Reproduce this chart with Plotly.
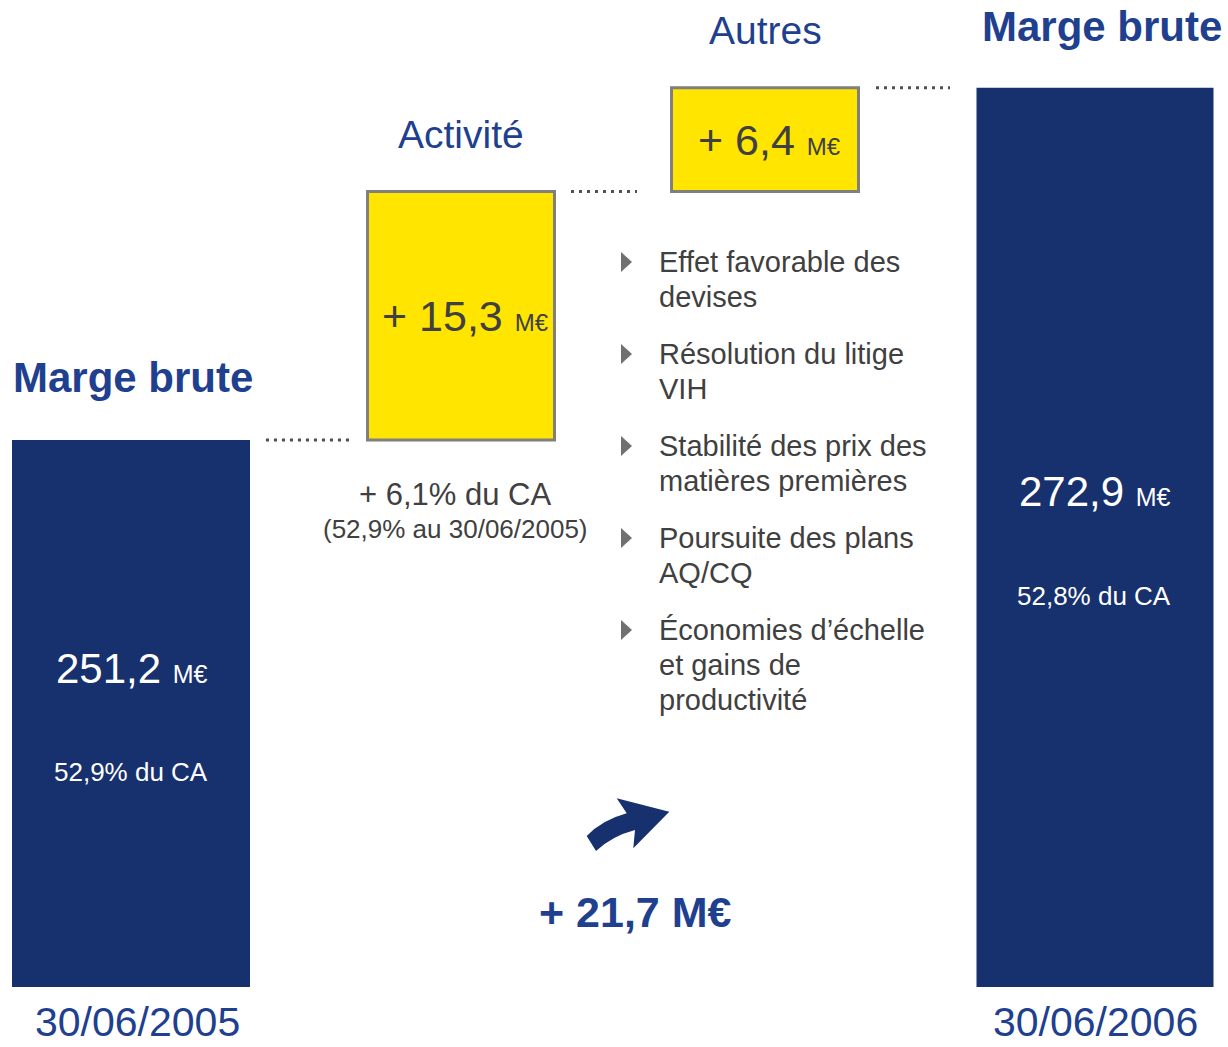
import plotly.graph_objects as go

# ---------------- data ----------------
categories = ["30/06/2005", "Activité", "Autres", "30/06/2006"]
start_value = 251.2          # M€ marge brute 30/06/2005
deltas = [15.3, 6.4]         # M€ activité, autres
end_value = 272.9            # M€ marge brute 30/06/2006
total_change = 21.7
pct_start = "52,9% du CA"
pct_end = "52,8% du CA"
activity_note = ["+ 6,1% du CA", "(52,9% au 30/06/2005)"]
bullets = [
    ["Effet favorable des", "devises"],
    ["Résolution du litige", "VIH"],
    ["Stabilité des prix des", "matières premières"],
    ["Poursuite des plans", "AQ/CQ"],
    ["Économies d’échelle", "et gains de", "productivité"],
]

# ---------------- layout / style ----------------
W, H = 1228, 1047
FONT = "Liberation Sans, Arial, sans-serif"
NAVY = "#17306E"
BLUE = "#1F3F8F"
GREY_TXT = "#404040"
YELLOW = "#FFE500"
BORDER = "#7F7F7F"
BAR_FLOOR = 217.5
Y_RANGE = [213.8, 278.3]
x_pos = [131, 461, 765, 1095]
x_width = [238, 190, 190, 237]


def fmt(v):
    return f"{v:.1f}".replace(".", ",")


def px(x):
    return x / W


def py(y):
    return 1 - y / H


fig = go.Figure()

# navy totals
fig.add_trace(go.Bar(
    x=[x_pos[0], x_pos[3]],
    y=[start_value - BAR_FLOOR, end_value - BAR_FLOOR],
    base=[BAR_FLOOR, BAR_FLOOR],
    width=[x_width[0], x_width[3]],
    marker=dict(color=NAVY, line=dict(width=0)),
    hoverinfo="skip",
))

# yellow deltas
bases = [start_value, start_value + deltas[0]]
fig.add_trace(go.Bar(
    x=[x_pos[1], x_pos[2]],
    y=deltas,
    base=bases,
    width=[x_width[1] - 3, x_width[2] - 3],
    marker=dict(color=YELLOW, line=dict(width=3, color=BORDER)),
    hoverinfo="skip",
))

shapes = []
# dotted connectors
levels = [start_value, start_value + deltas[0], end_value]
conn_x = [(266, 350), (571, 637), (876, 950)]
for (x0, x1), lv in zip(conn_x, levels):
    shapes.append(dict(type="line", xref="x", yref="y", x0=x0, x1=x1, y0=lv, y1=lv,
                       line=dict(color="#505050", width=3, dash="3px,5px")))

# bullet triangles
for i in range(len(bullets)):
    cy = 262 + 92 * i
    path = f"M {px(621)},{py(cy - 10)} L {px(632)},{py(cy)} L {px(621)},{py(cy + 10)} Z"
    shapes.append(dict(type="path", xref="paper", yref="paper", path=path,
                       fillcolor="#707070", line=dict(width=0)))

# curved arrow
pts = "M {},{} Q {},{} {},{} L {},{} L {},{} L {},{} L {},{} Q {},{} {},{} Z".format(
    px(586.7), py(836), px(602), py(820), px(626.7), py(813.3),
    px(616.7), py(798.3), px(669.3), py(811.7), px(633.3), py(848.3),
    px(635), py(830), px(612), py(836), px(596), py(851))
shapes.append(dict(type="path", xref="paper", yref="paper", path=pts,
                   fillcolor=NAVY, line=dict(width=0)))

ann = []


def add(text, x, y, size, color, bold=False, xanchor="center", yanchor="middle"):
    t = f"<b>{text}</b>" if bold else text
    ann.append(dict(text=t, x=px(x), y=py(y), xref="paper", yref="paper",
                    xanchor=xanchor, yanchor=yanchor, showarrow=False,
                    font=dict(family=FONT, size=size, color=color)))


# titles
add("Marge brute", 11, 377, 42, BLUE, bold=True, xanchor="left")
add("Marge brute", 1224, 27, 42, BLUE, bold=True, xanchor="right")

# category labels above yellow boxes (data-anchored)
for i, lab in enumerate(categories[1:3]):
    top = bases[i] + deltas[i]
    ann.append(dict(text=lab, x=x_pos[i + 1], y=top, xref="x", yref="y",
                    xanchor="center", yanchor="bottom", yshift=34, showarrow=False,
                    font=dict(family=FONT, size=39, color=BLUE)))
    ann.append(dict(text=f"+ {fmt(deltas[i])} <span style='font-size:24px'>M€</span>",
                    x=x_pos[i + 1] + 4, y=bases[i] + deltas[i] / 2, xref="x", yref="y",
                    xanchor="center", yanchor="middle", showarrow=False,
                    font=dict(family=FONT, size=43, color=GREY_TXT)))

# values in navy bars
add(f"{fmt(start_value)} <span style='font-size:25px'>M€</span>", 132, 668, 42, "white")
add(pct_start, 131, 772, 26, "white")
add(f"{fmt(end_value)} <span style='font-size:25px'>M€</span>", 1095, 492, 42, "white")
add(pct_end, 1094, 596, 26, "white")

# activity note
add(activity_note[0], 455, 494, 31, GREY_TXT)
add(activity_note[1], 455, 529, 26, GREY_TXT)

# bullets
for i, item in enumerate(bullets):
    for j, line in enumerate(item):
        add(line, 657, 262 + 92 * i + 35 * j, 29, GREY_TXT, xanchor="left")

# total change
add(f"+ {fmt(total_change)} M€", 635, 912, 43, BLUE, bold=True)

# dates
add(categories[0], 137, 1022, 41, BLUE)
add(categories[3], 1095, 1022, 41, BLUE)

fig.update_layout(
    width=W, height=H,
    margin=dict(l=0, r=0, t=0, b=0),
    paper_bgcolor="white", plot_bgcolor="white",
    showlegend=False, barmode="overlay",
    xaxis=dict(range=[0, W], visible=False, fixedrange=True),
    yaxis=dict(range=Y_RANGE, visible=False, fixedrange=True),
    shapes=shapes, annotations=ann,
)

fig.write_html("out.html",
               config={"displayModeBar": False, "staticPlot": True},
               post_script="document.body.style.margin='0px';document.body.style.overflow='hidden';")
